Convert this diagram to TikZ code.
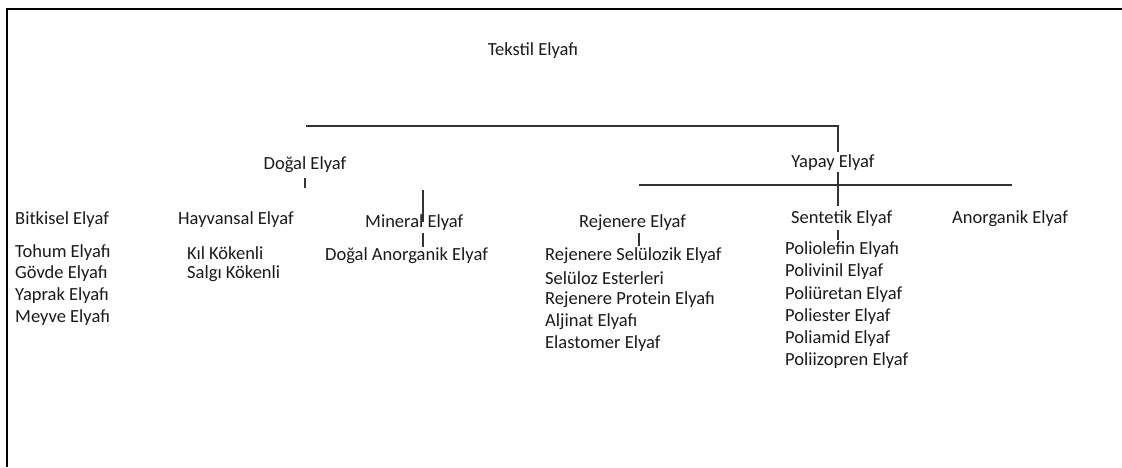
\documentclass[tikz,border=0pt]{standalone}
\usepackage{fontspec}
\setmainfont{Carlito}
\definecolor{txt}{HTML}{1A1A1A}
\definecolor{ln}{HTML}{333333}
\begin{document}
\begin{tikzpicture}[x=1pt,y=-1pt,
  lbl/.style={inner sep=0pt,text=txt,font=\fontsize{18.5}{20}\selectfont},
  item/.style={lbl,anchor=west},
  conn/.style={draw=ln,line width=1.8pt},
  frame/.style={draw=black,line width=2.6pt}]
\useasboundingbox (0,0) rectangle (1122,467);
\draw[frame] (7,467) -- (7,9) -- (1122,9);
% headers
\node[lbl] (root) at (533,51) {Tekstil Elyafı};
\node[lbl] (dogal) at (305,165) {Doğal Elyaf};
\node[lbl] (yapay) at (833,163) {Yapay Elyaf};
\node[item] (bitki) at (15,220) {Bitkisel Elyaf};
\node[item] (hayvan) at (178,220) {Hayvansal Elyaf};
\node[item] (mineral) at (365,223) {Mineral Elyaf};
\node[item] (rejen) at (579,223) {Rejenere Elyaf};
\node[item] (sentet) at (791,219) {Sentetik Elyaf};
\node[item] (anorg) at (952,219) {Anorganik Elyaf};
% lists
\node[item] (b1) at (15,253) {Tohum Elyafı};
\node[item] (b2) at (15,274) {Gövde Elyafı};
\node[item] (b3) at (15,296) {Yaprak Elyafı};
\node[item] (b4) at (15,318) {Meyve Elyafı};
\node[item] (h1) at (187,253) {Kıl Kökenli};
\node[item] (h2) at (187,274) {Salgı Kökenli};
\node[item] (m1) at (325,256) {Doğal Anorganik Elyaf};
\node[item] (r1) at (545,256) {Rejenere Selülozik Elyaf};
\node[item] (r2) at (545,278) {Selüloz Esterleri};
\node[item] (r3) at (545,300) {Rejenere Protein Elyafı};
\node[item] (r4) at (545,322) {Aljinat Elyafı};
\node[item] (r5) at (545,344) {Elastomer Elyaf};
\node[item] (s1) at (785,250) {Poliolefin Elyafı};
\node[item] (s2) at (785,272) {Polivinil Elyaf};
\node[item] (s3) at (785,295) {Poliüretan Elyaf};
\node[item] (s4) at (785,317) {Poliester Elyaf};
\node[item] (s5) at (785,339) {Poliamid Elyaf};
\node[item] (s6) at (785,361) {Poliizopren Elyaf};
% connector coordinates
\coordinate (t1) at (306,126);
\coordinate (t2) at (838,126);
\coordinate (t3) at (838,152);
\coordinate (d1) at (305,178);
\coordinate (d2) at (305,188);
\coordinate (mi1) at (423,190);
\coordinate (mi2) at (423,222);
\coordinate (mi3) at (423,233);
\coordinate (mi4) at (423,247);
\coordinate (y1) at (838,172);
\coordinate (y2) at (838,206);
\coordinate (yl) at (639,185);
\coordinate (yr) at (1012,185);
\coordinate (re1) at (639,233);
\coordinate (re2) at (639,246);
\coordinate (se1) at (838,230);
\coordinate (se2) at (838,240);
\draw[conn] (t1) -- (t2) -- (t3);
\draw[conn] (d1) -- (d2);
\draw[conn] (mi1) -- (mi2);
\draw[conn] (mi3) -- (mi4);
\draw[conn] (y1) -- (y2);
\draw[conn] (yl) -- (yr);
\draw[conn] (re1) -- (re2);
\draw[conn] (se1) -- (se2);
\end{tikzpicture}
\end{document}
